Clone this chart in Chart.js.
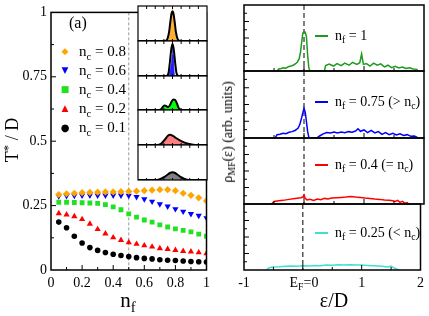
<!DOCTYPE html>
<html>
<head>
<meta charset="utf-8">
<script src="https://cdn.jsdelivr.net/npm/chart.js@4.4.0/dist/chart.umd.min.js"></script>
<style>
  body { margin: 0; width: 429px; height: 316px; background: #fff; position: relative; overflow: hidden;
         font-family: "Liberation Serif", serif; }
  canvas { position: absolute; }
  .t { position: absolute; white-space: nowrap; color: #000; line-height: 1; }
  .c { transform: translate(-50%, -50%); }
  sub { font-size: 70%; vertical-align: -0.35em; line-height: 0; }
  sup { font-size: 70%; vertical-align: 0.5em; line-height: 0; }
  .mk { position: absolute; width: 12px; text-align: center; font-family: "DejaVu Sans"; line-height: 1; }
  .seg { position: absolute; width: 13px; height: 2px; }
</style>
</head>
<body>
<canvas id="main" width="215" height="300" style="left:0;top:0"></canvas>
<canvas id="ins0" width="73" height="39" style="left:136px;top:4px"></canvas>
<canvas id="ins1" width="73" height="39" style="left:136px;top:39px"></canvas>
<canvas id="ins2" width="73" height="38" style="left:136px;top:74px"></canvas>
<canvas id="ins3" width="73" height="39" style="left:136px;top:108px"></canvas>
<canvas id="ins4" width="73" height="39" style="left:136px;top:143px"></canvas>
<canvas id="dos0" width="214" height="70" style="left:215px;top:3px"></canvas>
<canvas id="dos1" width="214" height="71" style="left:215px;top:69px"></canvas>
<canvas id="dos2" width="214" height="70" style="left:215px;top:136px"></canvas>
<canvas id="dos3" width="214" height="100" style="left:215px;top:202px"></canvas>

<!-- left panel texts -->
<div class="t" style="left:69px;top:15px;font-size:16px">(a)</div>
<div class="mk" style="left:59px;top:47px;font-size:9px;color:#ffa500">&#9670;</div>
<div class="t" style="left:79px;top:44px;font-size:15px">n<sub>c</sub> = 0.8</div>
<div class="mk" style="left:59px;top:66px;font-size:9px;color:#0000ff">&#9660;</div>
<div class="t" style="left:79px;top:63px;font-size:15px">n<sub>c</sub> = 0.6</div>
<div class="mk" style="left:59px;top:85px;font-size:9px;color:#22e022">&#9632;</div>
<div class="t" style="left:79px;top:82px;font-size:15px">n<sub>c</sub> = 0.4</div>
<div class="mk" style="left:59px;top:104px;font-size:9px;color:#ff0000">&#9650;</div>
<div class="t" style="left:79px;top:101px;font-size:15px">n<sub>c</sub> = 0.2</div>
<div class="mk" style="left:59px;top:123px;font-size:10px;color:#000">&#9679;</div>
<div class="t" style="left:79px;top:120px;font-size:15px">n<sub>c</sub> = 0.1</div>
<div class="t c" style="left:12px;top:140px;font-size:18px;transform:translate(-50%,-50%) rotate(-90deg)">T<sup>*</sup> / D</div>
<div class="t c" style="left:128px;top:300px;font-size:21px">n<sub>f</sub></div>

<!-- right panel texts -->
<div class="seg" style="left:315px;top:35px;background:#1f9a1f"></div>
<div class="t" style="left:335px;top:29px;font-size:14px">n<sub>f</sub> = 1</div>
<div class="seg" style="left:315px;top:101px;background:#0000ff"></div>
<div class="t" style="left:335px;top:95px;font-size:14px">n<sub>f</sub> = 0.75 (&gt; n<sub>c</sub>)</div>
<div class="seg" style="left:315px;top:164px;background:#ff0000"></div>
<div class="t" style="left:335px;top:158px;font-size:14px">n<sub>f</sub> = 0.4 (= n<sub>c</sub>)</div>
<div class="seg" style="left:315px;top:232px;background:#40e0d0"></div>
<div class="t" style="left:335px;top:226px;font-size:14px">n<sub>f</sub> = 0.25 (&lt; n<sub>c</sub>)</div>
<div class="t c" style="left:228px;top:132px;font-size:14px;transform:translate(-50%,-50%) rotate(-90deg)">&rho;<sub>MF</sub>(&epsilon;) (arb. units)</div>
<div class="t c" style="left:304px;top:283px;font-size:14px">E<sub>F</sub>=0</div>
<div class="t c" style="left:334px;top:300px;font-size:20px">&epsilon;/D</div>

<script>
/* MAIN PANEL DATA: T* over D versus n_f */
const nf = [0.05, 0.1, 0.15, 0.2, 0.25, 0.3, 0.35, 0.4, 0.45, 0.5,
            0.55, 0.6, 0.65, 0.7, 0.75, 0.8, 0.85, 0.9, 0.95, 1.0];
const tNc08 = [0.293, 0.296, 0.298, 0.300, 0.301, 0.302, 0.303, 0.303, 0.304, 0.305,
               0.306, 0.308, 0.310, 0.312, 0.312, 0.308, 0.298, 0.290, 0.280, 0.268];
const tNc06 = [0.287, 0.288, 0.289, 0.290, 0.290, 0.290, 0.290, 0.290, 0.290, 0.289,
               0.284, 0.275, 0.266, 0.256, 0.247, 0.237, 0.227, 0.218, 0.211, 0.202];
const tNc04 = [0.263, 0.263, 0.262, 0.261, 0.260, 0.259, 0.254, 0.245, 0.234, 0.218,
               0.205, 0.194, 0.186, 0.175, 0.167, 0.160, 0.154, 0.148, 0.139, 0.131];
const tNc02 = [0.220, 0.215, 0.208, 0.197, 0.179, 0.158, 0.141, 0.126, 0.116, 0.107,
               0.101, 0.095, 0.090, 0.084, 0.081, 0.077, 0.073, 0.071, 0.068, 0.064];
const tNc01 = [0.186, 0.164, 0.131, 0.105, 0.087, 0.076, 0.068, 0.061, 0.056, 0.052,
               0.048, 0.045, 0.043, 0.040, 0.038, 0.037, 0.035, 0.033, 0.032, 0.031];

const yTicksMain = [0, 0.25, 0.5, 0.75, 1];
const xTicksMain = [0, 0.2, 0.4, 0.6, 0.8, 1];

/* INSET DATA: distributions, one panel per n_c */
const ins08LineX = [-4, -0.9, -0.6, -0.4, -0.25, -0.1, 0, 0.1, 0.25, 0.4, 0.6, 0.9, 4];
const ins08LineY = [0, 0, 0.05, 0.25, 0.55, 0.8, 0.85, 0.8, 0.55, 0.25, 0.05, 0, 0];
const ins08FillX = [-0.45, -0.3, -0.15, -0.05, 0, 0.05, 0.15, 0.3, 0.45];
const ins08FillY = [0, 0.25, 0.6, 0.85, 0.93, 0.85, 0.6, 0.25, 0];

const ins06LineX = [-4, -0.7, -0.45, -0.3, -0.15, 0, 0.15, 0.3, 0.45, 0.7, 4];
const ins06LineY = [0, 0, 0.1, 0.4, 0.75, 0.92, 0.75, 0.4, 0.1, 0, 0];
const ins06FillX = [-0.4, -0.25, -0.15, -0.05, 0, 0.08, 0.15, 0.25];
const ins06FillY = [0, 0.2, 0.35, 0.6, 0.97, 0.6, 0.3, 0];

const ins04LineX = [-4, -1.5, -1.3, -1.1, -0.9, -0.7, -0.5, -0.3, -0.1, 0.1, 0.3, 0.5, 0.7, 0.9, 1.0, 4];
const ins04LineY = [0, 0, 0.03, 0.1, 0.13, 0.11, 0.09, 0.14, 0.25, 0.31, 0.3, 0.2, 0.07, 0.01, 0, 0];
const ins04FillX = [-1.5, -1.3, -1.1, -0.9, -0.7, -0.5, -0.3, -0.1, 0.1, 0.3, 0.5, 0.7, 0.9, 1.0];
const ins04FillY = [0, 0.03, 0.1, 0.13, 0.11, 0.09, 0.14, 0.25, 0.31, 0.3, 0.2, 0.07, 0.01, 0];

const ins02LineX = [-4, -1.8, -1.3, -0.9, -0.5, -0.3, 0, 0.4, 0.8, 1.2, 1.8, 2.4, 2.9, 4];
const ins02LineY = [0, 0, 0.04, 0.15, 0.27, 0.29, 0.27, 0.2, 0.14, 0.09, 0.04, 0.01, 0, 0];
const ins02FillX = [-1.6, -1.2, -0.8, -0.5, -0.3, 0, 0.4, 0.8, 1.2, 1.8, 2.3];
const ins02FillY = [0, 0.05, 0.17, 0.27, 0.29, 0.26, 0.19, 0.12, 0.07, 0.03, 0];

const ins01LineX = [-4, -1.8, -1.4, -1, -0.6, -0.3, 0, 0.3, 0.6, 1, 1.4, 1.9, 4];
const ins01LineY = [0, 0, 0.03, 0.08, 0.15, 0.2, 0.22, 0.2, 0.15, 0.08, 0.03, 0, 0];
const ins01FillX = [-1.8, -1.4, -1, -0.6, -0.3, 0, 0.3, 0.6, 1, 1.4, 1.9];
const ins01FillY = [0, 0.03, 0.08, 0.15, 0.2, 0.22, 0.2, 0.15, 0.08, 0.03, 0];

const insetTicks = [-3, -2, -1, 0, 1, 2, 3];

/* RIGHT PANEL DATA: rho_MF(eps) */
const epsNf100 = [-0.45, -0.42, -0.38, -0.34, -0.30, -0.26, -0.22, -0.18, -0.14, -0.11, -0.08, -0.06,
                  -0.04, -0.02, 0.00, 0.02, 0.04, 0.06, 0.08, 0.10, 0.34, 0.36, 0.42, 0.49, 0.55,
                  0.62, 0.68, 0.75, 0.81, 0.88, 0.93, 0.96, 0.99, 1.04, 1.10, 1.16, 1.22, 1.28,
                  1.34, 1.40, 1.46, 1.52, 1.58, 1.64, 1.70, 1.76, 1.82, 1.88, 1.90];
const rhoNf100 = [0, 0.12, 0.15, 0.2, 0.17, 0.26, 0.3, 0.35, 0.44, 0.55, 0.75, 1.1,
                  1.7, 2.3, 2.38, 2.36, 2.1, 1.0, 0.2, 0, 0, 0.33, 0.42, 0.3, 0.45,
                  0.33, 0.48, 0.35, 0.52, 0.4, 0.5, 1.03, 0.4, 0.45, 0.3, 0.48, 0.35, 0.43,
                  0.25, 0.35, 0.2, 0.28, 0.18, 0.24, 0.15, 0.2, 0.12, 0.1, 0];

const epsNf075 = [-0.48, -0.45, -0.40, -0.35, -0.30, -0.25, -0.20, -0.15, -0.10, -0.07, -0.04, -0.02,
                  0.0, 0.02, 0.04, 0.06, 0.08, 0.10, 0.21, 0.26, 0.32, 0.38, 0.44, 0.50, 0.56,
                  0.62, 0.68, 0.74, 0.80, 0.86, 0.90, 0.94, 1.00, 1.06, 1.12, 1.18, 1.24, 1.30,
                  1.36, 1.42, 1.48, 1.54, 1.60, 1.66, 1.72, 1.78, 1.84, 1.88, 1.90];
const rhoNf075 = [0, 0.2, 0.22, 0.28, 0.26, 0.34, 0.38, 0.45, 0.58, 0.8, 1.2, 1.5,
                  1.78, 1.55, 1.0, 0.4, 0.05, 0, 0, 0.12, 0.25, 0.33, 0.3, 0.35, 0.3,
                  0.36, 0.32, 0.38, 0.35, 0.42, 0.55, 0.4, 0.48, 0.32, 0.45, 0.3, 0.38, 0.22,
                  0.32, 0.2, 0.28, 0.18, 0.25, 0.15, 0.2, 0.1, 0.12, 0.05, 0];

const epsNf040 = [-0.54, -0.50, -0.45, -0.35, -0.25, -0.15, -0.05, -0.02, 0.0, 0.02, 0.05, 0.10,
                  0.16, 0.22, 0.28, 0.34, 0.40, 0.46, 0.54, 0.62, 0.70, 0.78, 0.86, 0.94, 1.02,
                  1.10, 1.18, 1.26, 1.34, 1.42, 1.48, 1.52, 1.56, 1.60, 1.64, 1.68, 1.72, 1.74];
const rhoNf040 = [0, 0.15, 0.18, 0.22, 0.28, 0.34, 0.38, 0.42, 0.55, 0.35, 0.25, 0.28,
                  0.22, 0.3, 0.26, 0.34, 0.3, 0.36, 0.38, 0.4, 0.42, 0.45, 0.42, 0.4, 0.36,
                  0.34, 0.3, 0.28, 0.24, 0.22, 0.2, 0.15, 0.22, 0.1, 0.16, 0.05, 0.08, 0];

const epsNf025 = [-0.62, -0.58, -0.52, -0.40, -0.30, -0.20, -0.10, 0.0, 0.10, 0.20, 0.30, 0.40,
                  0.50, 0.60, 0.70, 0.80, 0.90, 1.00, 1.10, 1.20, 1.30, 1.35, 1.40, 1.45, 1.50,
                  1.55, 1.60, 1.63];
const rhoNf025 = [0, 0.12, 0.18, 0.2, 0.23, 0.24, 0.22, 0.26, 0.25, 0.27, 0.26, 0.3,
                  0.29, 0.32, 0.31, 0.32, 0.3, 0.3, 0.28, 0.26, 0.24, 0.22, 0.2, 0.18, 0.24,
                  0.12, 0.05, 0];

const epsTicks = [-0.5, 0, 0.5, 1, 1.5];
const epsLabels = [-1, 0, 1, 2];
const rhoTicks = [0.5, 1, 1.5, 2, 2.5, 3, 3.5];

/* HELPERS */

function pts(xs, ys) {
  return xs.map((x, i) => ({ x: x, y: ys[i] }));
}

// frame, inward ticks and a dashed marker line, all placed with the chart's own scales
const frameTicks = {
  id: "frameTicks",
  beforeDatasetsDraw(chart, args, o) {
    const { ctx, chartArea: a, scales } = chart;
    ctx.save();
    if (o.fill) {
      ctx.fillStyle = o.fill;
      ctx.fillRect(a.left, a.top, a.width, a.height);
    }
    if (o.vline) {
      const px = scales.x.getPixelForValue(o.vline.value);
      ctx.strokeStyle = o.vline.color;
      ctx.lineWidth = 1;
      ctx.setLineDash(o.vline.dash);
      ctx.beginPath();
      ctx.moveTo(px, a.top);
      ctx.lineTo(px, a.bottom);
      ctx.stroke();
    }
    ctx.restore();
  },
  afterDatasetsDraw(chart, args, o) {
    const { ctx, chartArea: a, scales } = chart;
    ctx.save();
    ctx.strokeStyle = "#000";
    ctx.lineWidth = 1;
    (o.ticks || []).forEach(t => {
      t.values.forEach(v => {
        const len = t.major && t.major.includes(v) ? t.len + 2 : t.len;
        ctx.beginPath();
        if (t.side === "left" || t.side === "right") {
          const py = scales.y.getPixelForValue(v);
          const x0 = t.side === "left" ? a.left : a.right;
          ctx.moveTo(x0, py);
          ctx.lineTo(t.side === "left" ? x0 + len : x0 - len, py);
        } else {
          const px = scales.x.getPixelForValue(v);
          const y0 = t.side === "bottom" ? a.bottom : a.top;
          ctx.moveTo(px, y0);
          ctx.lineTo(px, t.side === "bottom" ? y0 - len : y0 + len);
        }
        ctx.stroke();
      });
    });
    ctx.lineWidth = o.frameWidth || 1.5;
    ctx.strokeRect(a.left, a.top, a.width, a.height);
    ctx.restore();
  }
};

Chart.defaults.animation = false;
Chart.defaults.font.family = "'Liberation Serif', serif";
Chart.defaults.color = "#000";
Chart.defaults.plugins.legend.display = false;
Chart.defaults.plugins.tooltip.enabled = false;

/* MAIN PANEL */

function markers(vals, color, style, rot, r) {
  return {
    data: pts(nf, vals),
    showLine: false,
    pointStyle: style,
    pointRotation: rot,
    pointRadius: r,
    pointBackgroundColor: color,
    pointBorderColor: color,
    pointBorderWidth: 0
  };
}

new Chart(document.getElementById("main"), {
  type: "scatter",
  data: {
    datasets: [
      markers(tNc08, "#ffa500", "rectRot", 0, 3.6),
      markers(tNc06, "#0000ff", "triangle", 180, 3.6),
      markers(tNc04, "#22e022", "rect", 0, 3.4),
      markers(tNc02, "#ff0000", "triangle", 0, 3.6),
      markers(tNc01, "#000000", "circle", 0, 2.8)
    ]
  },
  options: {
    responsive: false,
    layout: { padding: { top: 6, right: 6, left: 0, bottom: 0 } },
    scales: {
      x: {
        type: "linear", min: 0, max: 1,
        grid: { display: false, drawTicks: false }, border: { display: false },
        ticks: { padding: 5, font: { size: 14 }, maxRotation: 0, callback: v => String(v) },
        afterFit(s) { s.height = 30; },
        afterBuildTicks(s) { s.ticks = xTicksMain.map(v => ({ value: v })); }
      },
      y: {
        min: 0, max: 1,
        grid: { display: false, drawTicks: false }, border: { display: false },
        ticks: { padding: 4, font: { size: 14 }, callback: v => String(v) },
        afterFit(s) { s.width = 51; },
        afterBuildTicks(s) { s.ticks = yTicksMain.map(v => ({ value: v })); }
      }
    },
    plugins: {
      frameTicks: {
        frameWidth: 1.5,
        vline: { value: 0.5, color: "#999", dash: [3, 2] },
        ticks: [
          { side: "left", values: [0.125, 0.25, 0.375, 0.5, 0.625, 0.75, 0.875], major: [0.25, 0.5, 0.75], len: 3 },
          { side: "bottom", values: [0.1, 0.2, 0.3, 0.4, 0.5, 0.6, 0.7, 0.8, 0.9], major: [0.2, 0.4, 0.6, 0.8], len: 3 }
        ]
      }
    }
  },
  plugins: [frameTicks]
});

/* INSET PANELS */

const insets = [
  [ins08LineX, ins08LineY, ins08FillX, ins08FillY, "#ffb030"],
  [ins06LineX, ins06LineY, ins06FillX, ins06FillY, "#2020ff"],
  [ins04LineX, ins04LineY, ins04FillX, ins04FillY, "#00ff00"],
  [ins02LineX, ins02LineY, ins02FillX, ins02FillY, "#ff7f7f"],
  [ins01LineX, ins01LineY, ins01FillX, ins01FillY, "#808080"]
];

insets.forEach((p, k) => {
  new Chart(document.getElementById("ins" + k), {
    type: "line",
    data: {
      datasets: [
        { data: pts(p[0], p[1]), borderColor: "#000", borderWidth: 2, pointRadius: 0,
          fill: false, cubicInterpolationMode: "monotone", order: 0 },
        { data: pts(p[2], p[3]), borderColor: p[4], backgroundColor: p[4], borderWidth: 0.5,
          pointRadius: 0, fill: "origin", order: 1 }
      ]
    },
    options: {
      responsive: false,
      layout: { padding: 2 },
      scales: {
        x: { type: "linear", min: -4, max: 4, display: false },
        y: { min: 0, max: 1, display: false }
      },
      plugins: {
        frameTicks: {
          fill: "#fff",
          frameWidth: 1.2,
          ticks: [
            { side: "top", values: insetTicks, len: 3 },
            { side: "bottom", values: insetTicks, len: 2 }
          ]
        }
      }
    },
    plugins: [frameTicks]
  });
});

/* RIGHT PANELS */

const dos = [
  [epsNf100, rhoNf100, "#1f9a1f"],
  [epsNf075, rhoNf075, "#0000ff"],
  [epsNf040, rhoNf040, "#ff0000"],
  [epsNf025, rhoNf025, "#40e0d0"]
];

dos.forEach((p, k) => {
  const last = k === dos.length - 1;
  new Chart(document.getElementById("dos" + k), {
    type: "line",
    data: {
      datasets: [{ data: pts(p[0], p[1]), borderColor: p[2], borderWidth: 1.5, pointRadius: 0, fill: false }]
    },
    options: {
      responsive: false,
      layout: { padding: { left: 29, right: 5, top: 2, bottom: last ? 0 : 2 } },
      scales: {
        x: {
          type: "linear", min: -1, max: 2, display: last,
          grid: { display: false, drawTicks: false }, border: { display: false },
          ticks: { padding: 5, font: { size: 14 }, maxRotation: 0,
                   callback: v => (v === 0 ? "" : String(v)) },
          afterFit(s) { if (last) s.height = 32; },
          afterBuildTicks(s) { s.ticks = epsLabels.map(v => ({ value: v })); }
        },
        y: { min: 0, max: 4, display: false }
      },
      plugins: {
        frameTicks: {
          frameWidth: 1.5,
          vline: { value: 0, color: "#000", dash: [5, 3] },
          ticks: [
            { side: "left", values: rhoTicks, major: [1, 2, 3], len: 3 },
            { side: "bottom", values: epsTicks, major: [0, 1], len: 3 }
          ]
        }
      }
    },
    plugins: [frameTicks]
  });
});
</script>
</body>
</html>
